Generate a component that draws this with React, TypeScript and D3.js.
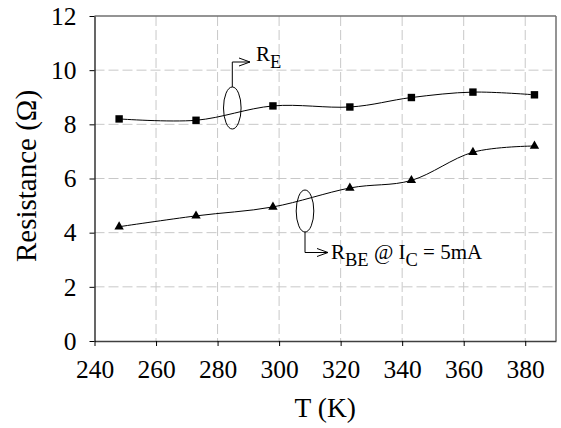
import React, { useEffect, useRef } from 'react';
import * as d3 from 'd3';

const temps = [248, 273, 298, 323, 343, 363, 383];
const rE = [8.2, 8.15, 8.68, 8.64, 8.99, 9.19, 9.09];
const rBE = [4.22, 4.62, 4.95, 5.65, 5.93, 6.97, 7.2];
const xTicks = [240, 260, 280, 300, 320, 340, 360, 380];
const yTicks = [0, 2, 4, 6, 8, 10, 12];

const FONT = 'Liberation Serif';

export default function App() {
  const svgRef = useRef<SVGSVGElement | null>(null);

  useEffect(() => {
    if (!svgRef.current) return;
    const svg = d3.select(svgRef.current);
    svg.selectAll('*').remove();

    const width = 561;
    const height = 428;
    const x = d3.scaleLinear().domain([240, 390]).range([94.5, 556]);
    const y = d3.scaleLinear().domain([0, 12]).range([341, 16]);

    svg.attr('width', width).attr('height', height);

    const g = svg.append('g');

    // grid
    g.selectAll('.vgrid')
      .data(xTicks.slice(1))
      .enter()
      .append('line')
      .attr('x1', d => x(d)).attr('x2', d => x(d))
      .attr('y1', y(12)).attr('y2', y(0))
      .attr('stroke', '#c8c8c8')
      .attr('stroke-dasharray', '10,4');
    g.selectAll('.hgrid')
      .data(yTicks.slice(1, -1))
      .enter()
      .append('line')
      .attr('x1', x(240)).attr('x2', x(390))
      .attr('y1', d => y(d)).attr('y2', d => y(d))
      .attr('stroke', '#c8c8c8')
      .attr('stroke-dasharray', '10,4');

    // frame: top and right gray
    g.append('line')
      .attr('x1', x(240)).attr('x2', x(390))
      .attr('y1', y(12)).attr('y2', y(12))
      .attr('stroke', '#707070').attr('stroke-width', 1.5);
    g.append('line')
      .attr('x1', x(390)).attr('x2', x(390))
      .attr('y1', y(12)).attr('y2', y(0))
      .attr('stroke', '#707070').attr('stroke-width', 1.5);

    // axes
    const xAxis = g.append('g')
      .attr('transform', `translate(0, ${y(0)})`)
      .call(d3.axisBottom(x).tickValues(xTicks).tickSize(5).tickSizeOuter(0).tickPadding(14));
    xAxis.select('.domain').attr('stroke', '#404040').attr('stroke-width', 1.5);
    xAxis.selectAll('text').style('font-family', FONT).style('font-size', '25.5px').attr('fill', '#000');

    const yAxis = g.append('g')
      .attr('transform', `translate(${x(240)}, 0)`)
      .call(d3.axisLeft(y).tickValues(yTicks).tickSize(5).tickSizeOuter(0).tickPadding(13));
    yAxis.select('.domain').attr('stroke', '#000').attr('stroke-width', 1.2);
    yAxis.selectAll('text').style('font-family', FONT).style('font-size', '25.5px').attr('fill', '#000');

    // curves
    const line = d3.line<number>()
      .x((_, i) => x(temps[i]))
      .y(d => y(d))
      .curve(d3.curveCardinal);

    g.append('path').datum(rE).attr('d', line)
      .attr('fill', 'none').attr('stroke', '#000').attr('stroke-width', 1);
    g.append('path').datum(rBE).attr('d', line)
      .attr('fill', 'none').attr('stroke', '#000').attr('stroke-width', 1);

    g.selectAll('.sq')
      .data(rE)
      .enter()
      .append('rect')
      .attr('x', (_, i) => x(temps[i]) - 3.7)
      .attr('y', d => y(d) - 3.7)
      .attr('width', 7.4).attr('height', 7.4)
      .attr('fill', '#000');

    const tri = d3.symbol().type(d3.symbolTriangle).size(38);
    g.selectAll('.tri')
      .data(rBE)
      .enter()
      .append('path')
      .attr('d', tri)
      .attr('transform', (d, i) => `translate(${x(temps[i])}, ${y(d)})`)
      .attr('fill', '#000');

    // annotations
    const ann = (cx: number, cy: number, up: boolean, armY: number, tipX: number) => {
      g.append('ellipse')
        .attr('cx', cx).attr('cy', cy).attr('rx', 8.8).attr('ry', 21)
        .attr('fill', 'none').attr('stroke', '#000').attr('stroke-width', 1);
      const startY = up ? cy - 21 : cy + 21;
      g.append('path')
        .attr('d', `M${cx},${startY} L${cx},${armY} L${tipX},${armY} M${tipX - 11},${armY - 4} L${tipX},${armY} L${tipX - 11},${armY + 4}`)
        .attr('fill', 'none').attr('stroke', '#000').attr('stroke-width', 1);
    };

    ann(232.3, 108, true, 62, 250);
    ann(305, 211, false, 252.5, 328);

    const t1 = g.append('text')
      .attr('x', 256).attr('y', 61)
      .style('font-family', FONT).style('font-size', '21px').attr('fill', '#000');
    t1.append('tspan').text('R');
    t1.append('tspan').style('font-size', '18.5px').attr('dy', 7).text('E');

    const t2 = g.append('text')
      .attr('x', 331).attr('y', 259)
      .style('font-family', FONT).style('font-size', '21px').attr('fill', '#000');
    t2.append('tspan').text('R');
    t2.append('tspan').style('font-size', '18.5px').attr('dy', 7).text('BE');
    t2.append('tspan').attr('dy', -7).text(' @ I');
    t2.append('tspan').style('font-size', '18.5px').attr('dy', 7).text('C');
    t2.append('tspan').attr('dy', -7).text(' = 5mA');

    // axis titles
    svg.append('text')
      .attr('x', x(315)).attr('y', 417)
      .attr('text-anchor', 'middle')
      .style('font-family', FONT).style('font-size', '27.5px').attr('fill', '#000')
      .text('T (K)');

    svg.append('text')
      .attr('transform', 'translate(36, 176) rotate(-90)')
      .attr('text-anchor', 'middle')
      .style('font-family', FONT).style('font-size', '29px').attr('fill', '#000')
      .text('Resistance (Ω)');
  }, []);

  return (
    <div style={{ position: 'absolute', left: 0, top: 0 }}>
      <svg ref={svgRef}></svg>
    </div>
  );
}
